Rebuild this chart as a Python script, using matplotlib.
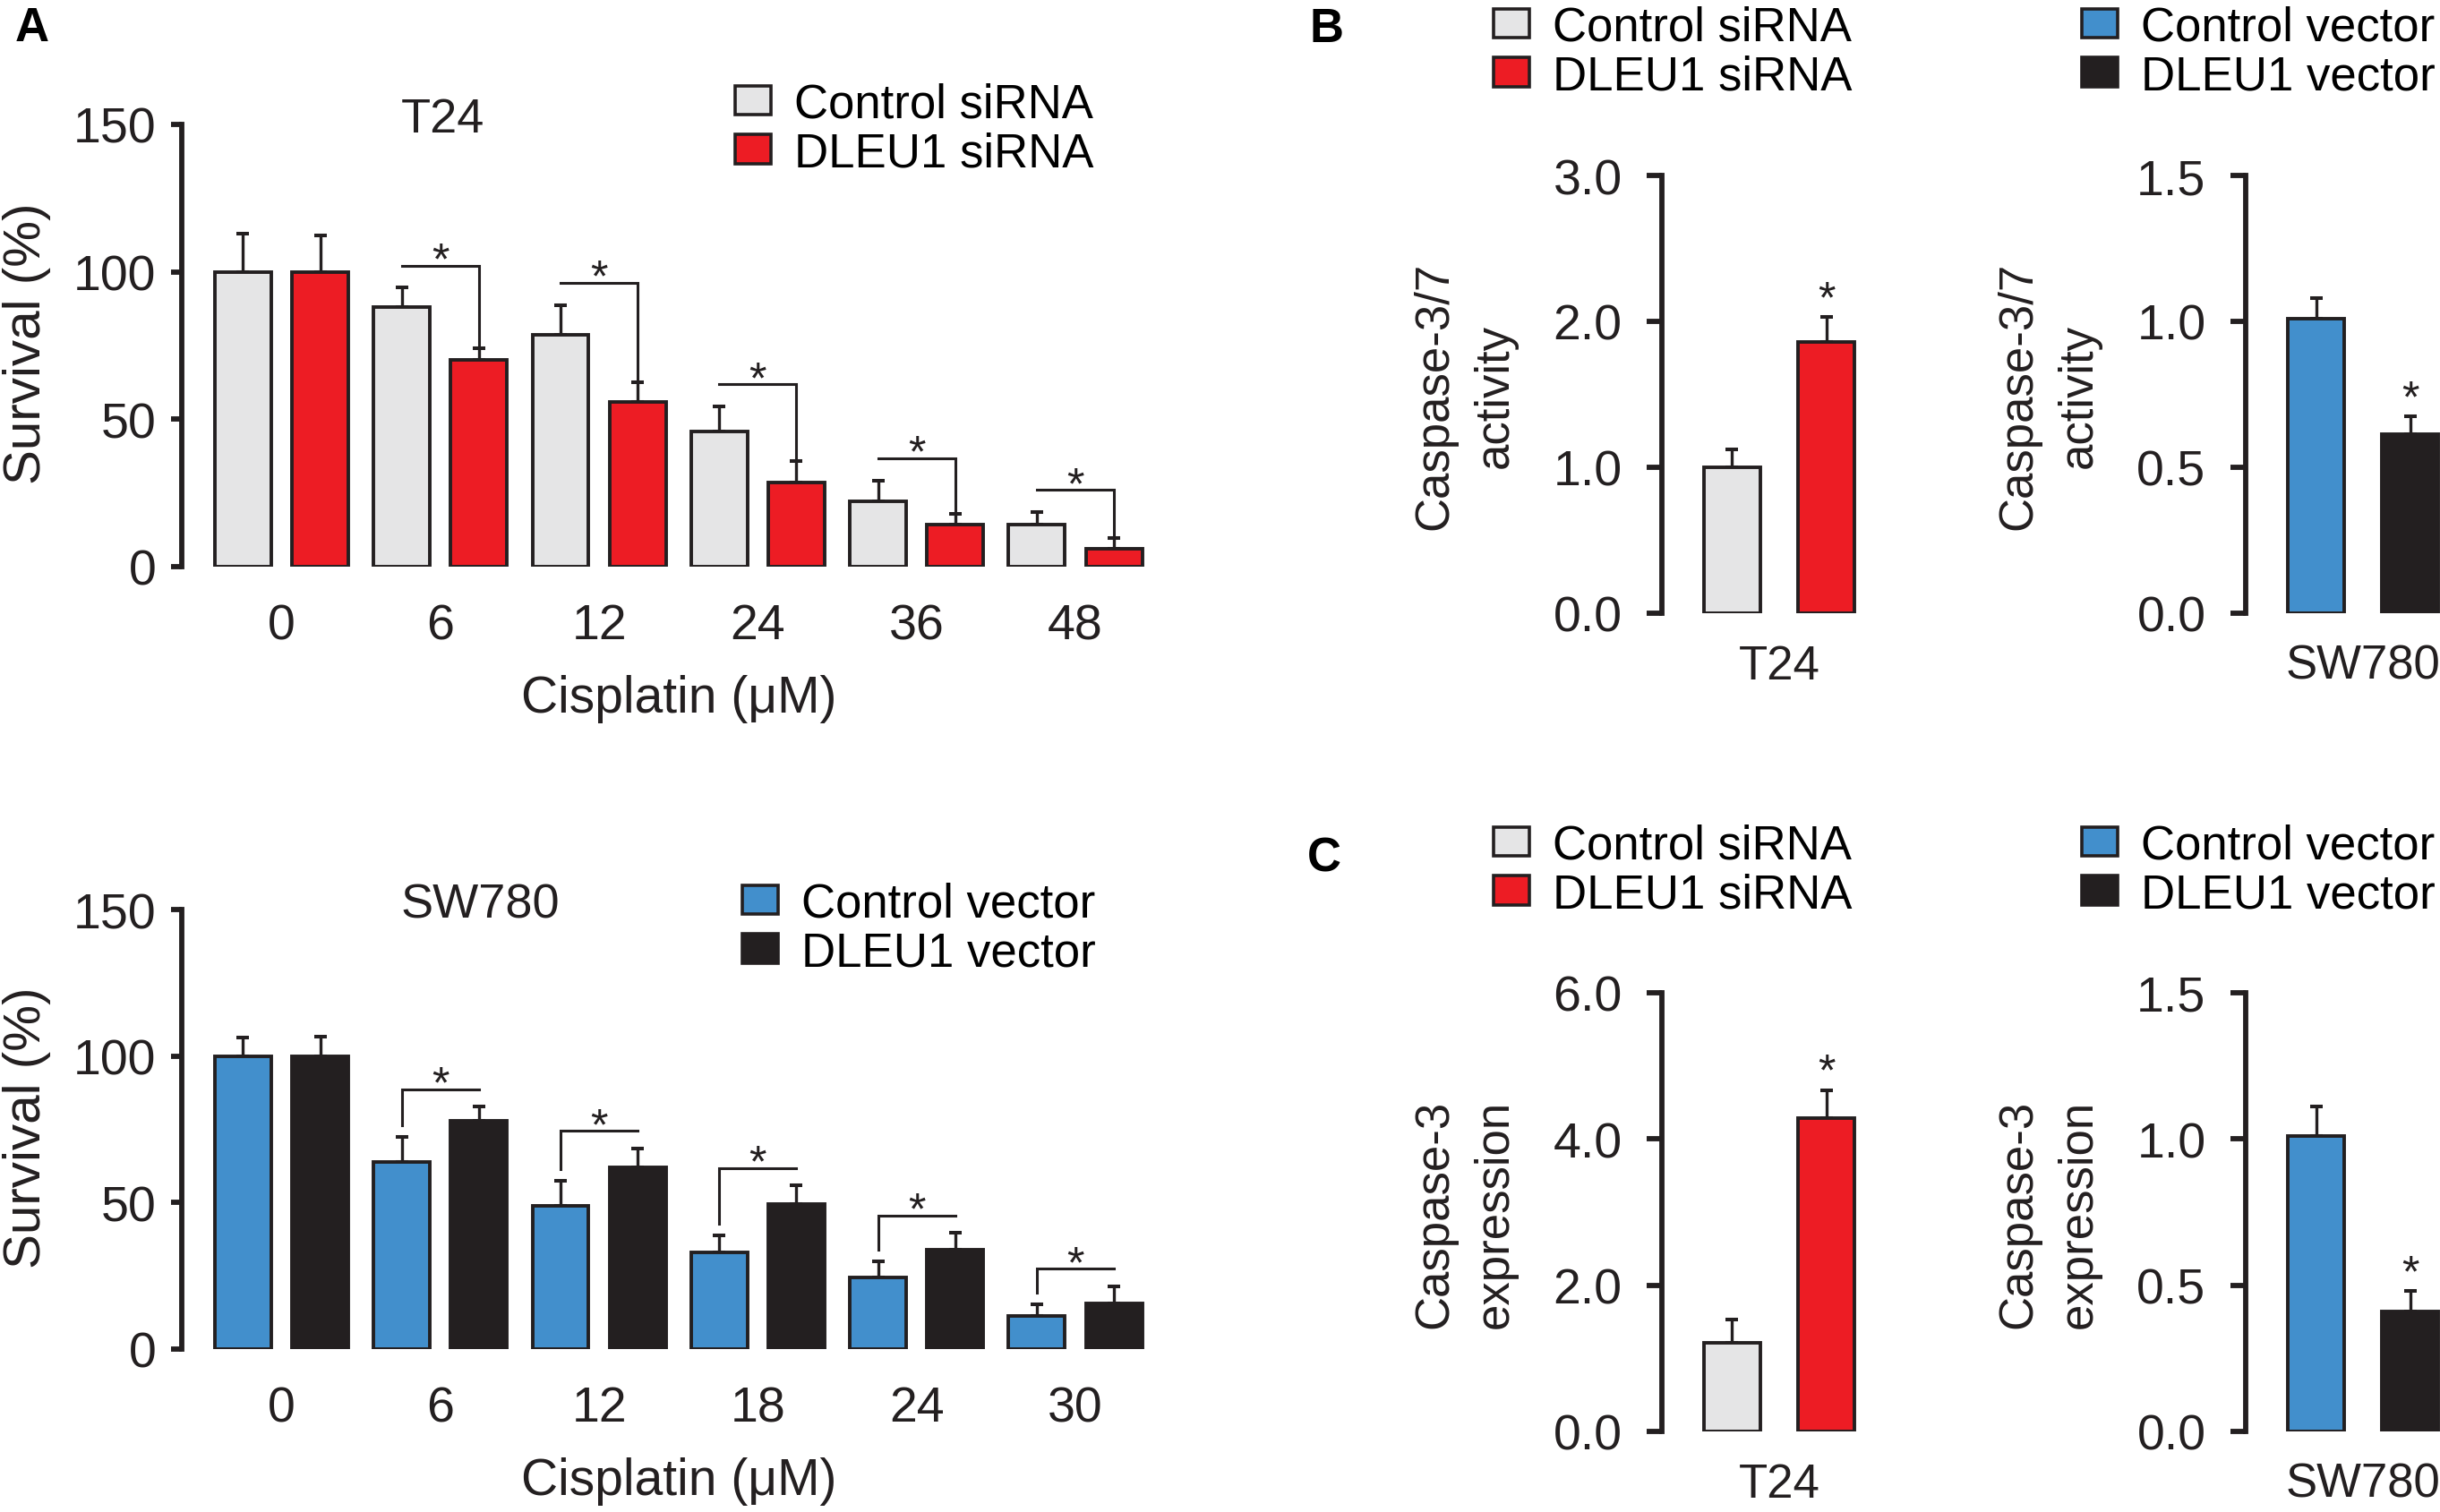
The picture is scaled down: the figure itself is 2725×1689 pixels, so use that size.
import matplotlib
matplotlib.use('Agg')
import matplotlib.pyplot as plt
from matplotlib.patches import Patch
from matplotlib.transforms import offset_copy
import numpy as np

plt.rcParams['font.family'] = ['Liberation Sans', 'DejaVu Sans']

# ---- data ----
t24_doses = ['0', '6', '12', '24', '36', '48']
t24_ctrl = [100, 88, 78.5, 46, 22.3, 14.4]
t24_ctrl_err = [13, 6.6, 10.3, 8.4, 7, 4.2]
t24_dleu = [100, 70, 56, 28.5, 14.2, 6]
t24_dleu_err = [12.5, 4, 6.5, 7.3, 3.8, 3.6]

sw_doses = ['0', '6', '12', '18', '24', '30']
sw_ctrl = [100, 64, 49, 33, 24.3, 11.4]
sw_ctrl_err = [6.4, 8.4, 8.5, 5.7, 5.5, 3.9]
sw_dleu = [100, 78, 62, 49.5, 34, 15.7]
sw_dleu_err = [6.7, 4.7, 6.5, 6.3, 5.6, 5.8]

casp37_t24 = [1.0, 1.86]
casp37_t24_err = [0.12, 0.17]
casp37_sw = [1.01, 0.615]
casp37_sw_err = [0.07, 0.06]

casp3_t24 = [1.21, 4.29]
casp3_t24_err = [0.32, 0.38]
casp3_sw = [1.01, 0.41]
casp3_sw_err = [0.10, 0.07]

GRAY = '#E5E5E6'
RED = '#ED1C24'
BLUE = '#428FCC'
BLACK = '#231F20'
EDGE = '#231F20'

W, H = 2725, 1690
fig = plt.figure(figsize=(W / 100, H / 100), dpi=100)


def add_ax(left, top, right, bottom):
    return fig.add_axes([left / W, 1 - bottom / H, (right - left) / W, (bottom - top) / H])


def style(ax, ticks, labels, ticklen=8.5, pad=12):
    for s in ['top', 'right', 'bottom']:
        ax.spines[s].set_visible(False)
    ax.spines['left'].set_linewidth(4.2)
    ax.spines['left'].set_color(BLACK)
    ax.set_yticks(ticks)
    ax.set_yticklabels(labels)
    ax.tick_params(axis='y', direction='out', length=ticklen, width=4.2,
                   labelsize=40, pad=pad, colors=BLACK)
    ax.tick_params(axis='x', length=0)
    ax.set_xticks([])


def bars(ax, x, vals, errs, color, width):
    ax.bar(x, vals, width, color=color, edgecolor=EDGE, linewidth=2.8, zorder=3)
    ax.errorbar(x, vals, yerr=[np.zeros(len(vals)), errs], fmt='none',
                ecolor=EDGE, elinewidth=2.4, capsize=5, capthick=2.9, zorder=2)


def legend(ax, colors, labels, x_px, yc_px):
    handles = [Patch(facecolor=c, edgecolor=EDGE, linewidth=2.6) for c in colors]
    ax.legend(handles, labels, loc='center left',
              bbox_to_anchor=(x_px / W, 1 - yc_px / H), bbox_transform=fig.transFigure,
              frameon=False, borderpad=0, borderaxespad=0, fontsize=38,
              handlelength=0.75, handleheight=0.58, handletextpad=0.5,
              labelspacing=0.09)


def ylabel(text, x_px, y_px, size, ls=1.2):
    fig.text(x_px / W, 1 - y_px / H, text, rotation=90, ha='center', va='center',
             rotation_mode='anchor', fontsize=size, color=BLACK,
             multialignment='center', linespacing=ls)


# ---- panel A ----
PITCH = 177.3
G0 = 314.5
XL, XR = -0.63, 5.5
off, bw = 0.243, 0.355


def survival_panel(top, bottom, doses, c, ce, d, de, col_c, col_d, title, labels,
                   t24_style, leg_x, leg_y):
    ax = add_ax(G0 + XL * PITCH, top, G0 + XR * PITCH, bottom)
    x = np.arange(len(doses))
    bars(ax, x - off, c, ce, col_c, bw)
    bars(ax, x + off, d, de, col_d, bw)
    ax.set_xlim(XL, XR)
    ax.set_ylim(0, 150)
    style(ax, [0, 50, 100, 150], ['0', '50', '100', '150'], ticklen=8.5, pad=12)
    ax.set_xticks(x)
    ax.set_xticklabels(doses)
    ax.tick_params(axis='x', length=0, labelsize=40, pad=29, colors=BLACK)
    ctop = np.array(c) + np.array(ce)
    dtop = np.array(d) + np.array(de)
    star_tr = offset_copy(ax.transData, fig=fig, y=-9, units='dots')
    for i in range(1, len(doses)):
        xl, xr = i - off, i + off
        if t24_style:
            yb = ctop[i] + 7.5
            ax.plot([xl, xr, xr], [yb, yb, dtop[i] + 0.5], color=BLACK, lw=2.2,
                    solid_joinstyle='miter')
        else:
            yb = dtop[i] + 6
            ax.plot([xl, xl, xr], [ctop[i] + 4, yb, yb], color=BLACK, lw=2.2,
                    solid_joinstyle='miter')
        ax.text(i, yb, '*', ha='center', va='baseline', fontsize=36,
                color=BLACK, transform=star_tr)
    ax.text(0.75, 147.5, title, ha='left', va='baseline', fontsize=39, color=BLACK)
    xl_tr = offset_copy(ax.get_xaxis_transform(), fig=fig, y=-162, units='dots')
    ax.text(2.5, 0, 'Cisplatin (μM)', ha='center', va='baseline', fontsize=41,
            color=BLACK, transform=xl_tr)
    legend(ax, [col_c, col_d], labels, leg_x, leg_y)
    ylabel('Survival (%)', 30, (top + bottom) / 2 - 3, 42)
    return ax


survival_panel(140, 634, t24_doses, t24_ctrl, t24_ctrl_err, t24_dleu, t24_dleu_err,
               GRAY, RED, 'T24', ['Control siRNA', 'DLEU1 siRNA'], True, 821, 145)
survival_panel(1017, 1508, sw_doses, sw_ctrl, sw_ctrl_err, sw_dleu, sw_dleu_err,
               BLUE, BLACK, 'SW780', ['Control vector', 'DLEU1 vector'], False, 829, 1038)


# ---- panels B and C ----
def small_panel(spine_px, center_px, top, bottom, vals, errs, cols, ymax, ticks,
                ticklabels, cell, ylab):
    bp = 105.3
    xl = (spine_px - center_px) / bp
    xr = min(1.45, (W - center_px) / bp)
    ax = add_ax(spine_px, top, center_px + xr * bp, bottom)
    x = np.arange(2)
    for i in range(2):
        bars(ax, [x[i]], [vals[i]], [errs[i]], cols[i], 0.6)
    ax.set_xlim(xl, xr)
    ax.set_ylim(0, ymax)
    style(ax, ticks, ticklabels, ticklen=12, pad=20)
    star_tr = offset_copy(ax.transData, fig=fig, y=6, units='dots')
    ax.text(1, vals[1] + errs[1], '*', ha='center', va='baseline', fontsize=36,
            color=BLACK, transform=star_tr)
    cl_tr = offset_copy(ax.get_xaxis_transform(), fig=fig, y=-73, units='dots')
    ax.text(0.5, 0, cell, ha='center', va='baseline', fontsize=38, color=BLACK,
            transform=cl_tr, clip_on=False)
    ylabel(ylab, spine_px - 220, (top + bottom) / 2 + 1, 38, ls=1.45)
    return ax


b1 = small_panel(1856, 1934.5, 197, 686, casp37_t24, casp37_t24_err, [GRAY, RED], 3.0,
                 [0, 1, 2, 3], ['0.0', '1.0', '2.0', '3.0'], 'T24', 'Caspase-3/7\nactivity')
b2 = small_panel(2508, 2586.5, 197, 686, casp37_sw, casp37_sw_err, [BLUE, BLACK], 1.5,
                 [0, 0.5, 1.0, 1.5], ['0.0', '0.5', '1.0', '1.5'], 'SW780', 'Caspase-3/7\nactivity')
c1 = small_panel(1856, 1934.5, 1110, 1600, casp3_t24, casp3_t24_err, [GRAY, RED], 6.0,
                 [0, 2, 4, 6], ['0.0', '2.0', '4.0', '6.0'], 'T24', 'Caspase-3\nexpression')
c2 = small_panel(2508, 2586.5, 1110, 1600, casp3_sw, casp3_sw_err, [BLUE, BLACK], 1.5,
                 [0, 0.5, 1.0, 1.5], ['0.0', '0.5', '1.0', '1.5'], 'SW780', 'Caspase-3\nexpression')

legend(b1, [GRAY, RED], ['Control siRNA', 'DLEU1 siRNA'], 1668, 59)
legend(b2, [BLUE, BLACK], ['Control vector', 'DLEU1 vector'], 2325, 59)
legend(c1, [GRAY, RED], ['Control siRNA', 'DLEU1 siRNA'], 1668, 973)
legend(c2, [BLUE, BLACK], ['Control vector', 'DLEU1 vector'], 2325, 973)

# panel letters
for letter, xp, yp in [('A', 17, 46), ('B', 1462, 47), ('C', 1460, 974)]:
    fig.text(xp / W, 1 - yp / H, letter, ha='left', va='baseline', fontsize=38,
             fontweight='bold', color='black')

fig.savefig('out.png', dpi=100)
